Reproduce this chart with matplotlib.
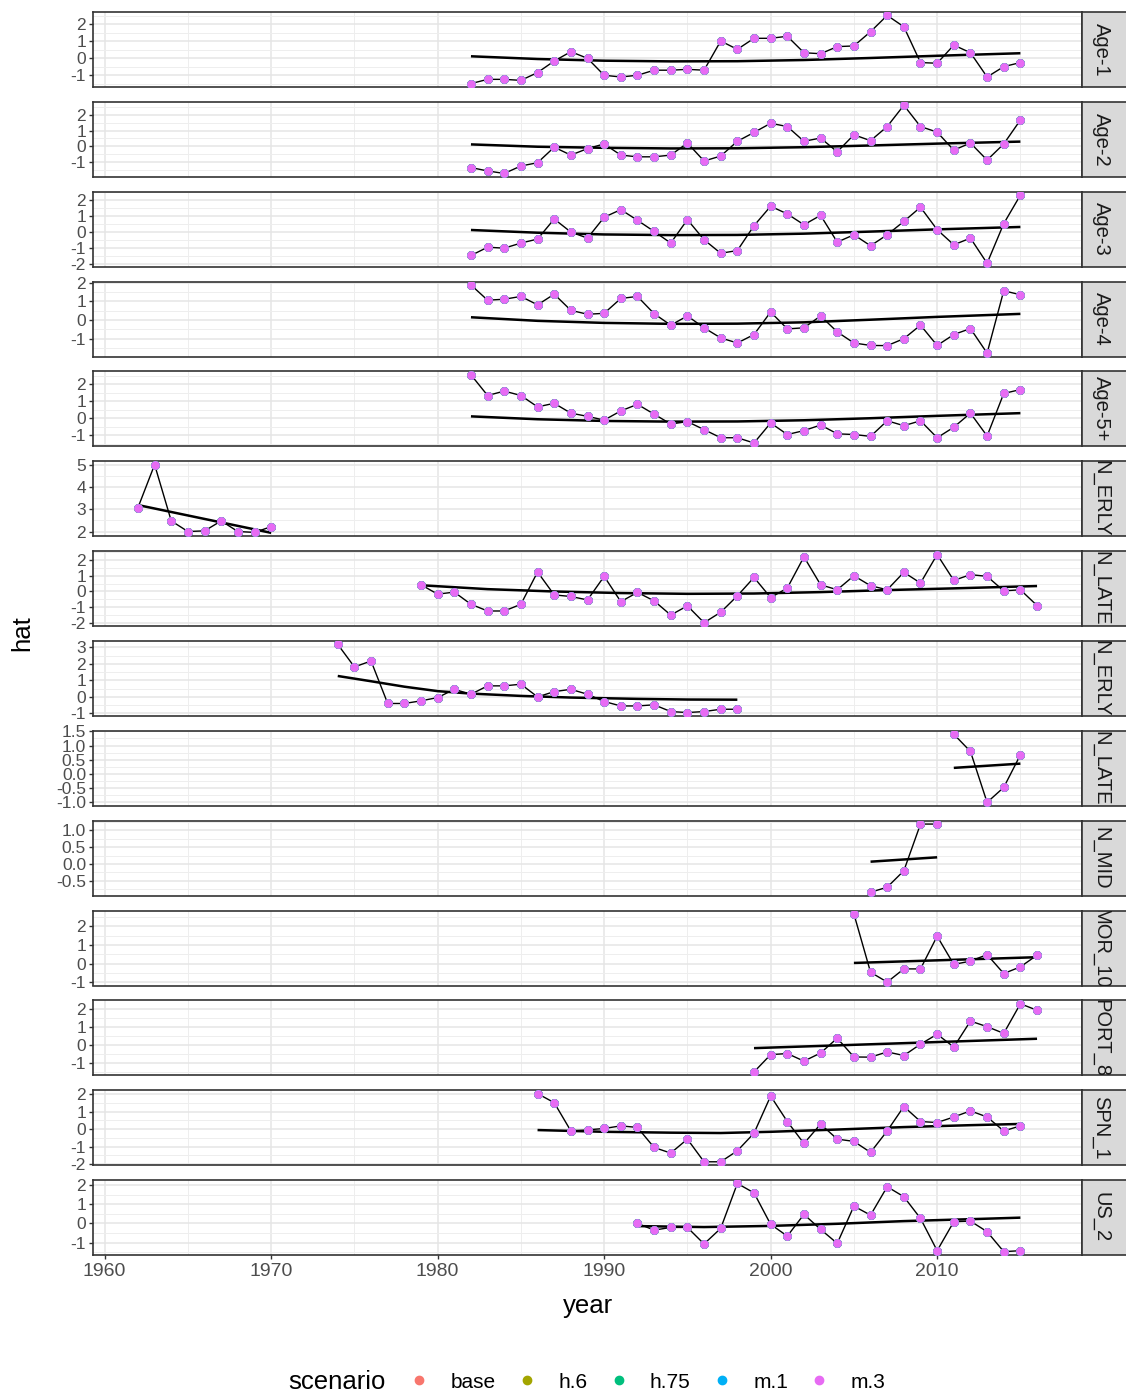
import numpy as np
import matplotlib
matplotlib.use("Agg")
import matplotlib.pyplot as plt
from matplotlib.ticker import MaxNLocator, AutoMinorLocator, MultipleLocator
from matplotlib.lines import Line2D

plt.rcParams['font.family'] = ['Liberation Sans', 'DejaVu Sans']
plt.rcParams['axes.unicode_minus'] = False

# facet labels (as far as they can be read) and first year of each series
labels = ["Age-1", "Age-2", "Age-3", "Age-4", "Age-5+", "N_ERLY", "N_LATE",
          "N_ERLY", "N_LATE", "N_MID", "MOR_10", "PORT_8", "SPN_1", "US_2"]
first_year = [1982, 1982, 1982, 1982, 1982, 1962, 1979,
              1974, 2011, 2006, 2005, 1999, 1986, 1992]

# yearly values (one per year from first_year)
age1 = [-1.49, -1.24, -1.24, -1.3, -0.84, -0.16, 0.39, 0.0, -1.0, -1.1, -1.0, -0.7,
        -0.7, -0.65, -0.7, 1.02, 0.53, 1.18, 1.18, 1.3, 0.33, 0.27, 0.69, 0.73,
        1.57, 2.53, 1.86, -0.25, -0.29, 0.78, 0.33, -1.1, -0.49, -0.25]
age2 = [-1.37, -1.59, -1.75, -1.27, -1.06, -0.06, -0.57, -0.15, 0.15, -0.57, -0.68,
        -0.68, -0.57, 0.21, -0.95, -0.63, 0.32, 0.89, 1.48, 1.27, 0.32, 0.53, -0.36,
        0.74, 0.36, 1.27, 2.64, 1.27, 0.91, -0.25, 0.21, -0.89, 0.15, 1.69]
age3 = [-1.47, -0.95, -1.01, -0.69, -0.44, 0.82, 0.0, -0.38, 0.93, 1.41, 0.74, 0.04,
        -0.69, 0.78, -0.48, -1.33, -1.16, 0.4, 1.62, 1.14, 0.46, 1.05, -0.63, -0.17,
        -0.86, -0.17, 0.67, 1.56, 0.15, -0.8, -0.38, -1.96, 0.53, 2.32]
age4 = [1.87, 1.06, 1.11, 1.26, 0.81, 1.38, 0.52, 0.31, 0.36, 1.15, 1.26, 0.34,
        -0.27, 0.22, -0.41, -0.95, -1.22, -0.77, 0.43, -0.47, -0.41, 0.22, -0.63,
        -1.22, -1.35, -1.36, -0.99, -0.27, -1.35, -0.77, -0.45, -1.76, 1.56, 1.35]
age5 = [2.57, 1.35, 1.61, 1.35, 0.68, 0.89, 0.31, 0.12, -0.1, 0.44, 0.83, 0.25,
        -0.33, -0.19, -0.66, -1.14, -1.14, -1.45, -0.27, -0.95, -0.72, -0.39, -0.91,
        -0.95, -1.06, -0.14, -0.43, -0.14, -1.14, -0.52, 0.31, -1.04, 1.47, 1.7]
n_erly_a = [3.08, 5.03, 2.48, 2.0, 2.03, 2.48, 2.0, 1.96, 2.22]
n_late_a = [0.43, -0.17, -0.04, -0.82, -1.25, -1.25, -0.82, 1.25, -0.22, -0.32, -0.54,
            0.97, -0.65, -0.06, -0.6, -1.51, -0.92, -2.0, -1.33, -0.28, 0.9, -0.39,
            0.22, 2.22, 0.43, 0.11, 1.01, 0.37, 0.11, 1.23, 0.54, 2.37, 0.71, 1.08,
            0.97, 0.04, 0.11, -0.9]
n_erly_b = [3.19, 1.82, 2.18, -0.4, -0.4, -0.24, -0.04, 0.46, 0.16, 0.67, 0.67, 0.77,
            0.0, 0.32, 0.46, 0.16, -0.28, -0.55, -0.55, -0.48, -0.89, -0.95, -0.89,
            -0.75, -0.75]
n_late_b = [1.4, 0.79, -1.01, -0.48, 0.67]
n_mid = [-0.84, -0.69, -0.2, 1.19, 1.19]
mor_10 = [2.67, -0.47, -1.0, -0.29, -0.29, 1.47, -0.05, 0.13, 0.48, -0.54, -0.18, 0.45]
port_8 = [-1.47, -0.51, -0.45, -0.87, -0.42, 0.4, -0.64, -0.65, -0.36, -0.56, 0.07,
          0.62, -0.09, 1.35, 1.04, 0.67, 2.31, 1.95]
spn_1 = [2.04, 1.52, -0.1, -0.04, 0.04, 0.19, 0.1, -1.05, -1.37, -0.57, -1.87, -1.87,
         -1.24, -0.23, 1.9, 0.44, -0.82, 0.29, -0.57, -0.7, -1.33, -0.1, 1.3, 0.44,
         0.38, 0.7, 1.05, 0.7, -0.1, 0.19]
us_2 = [0.0, -0.35, -0.21, -0.21, -1.07, -0.26, 2.08, 1.59, -0.05, -0.66, 0.47, -0.31,
        -1.04, 0.9, 0.43, 1.91, 1.39, 0.26, -1.42, 0.09, 0.12, -0.43, -1.47, -1.42]

# fitted trend lines read at a few years
age_fit_years = [1982, 1986, 1990, 1994, 1998, 2002, 2006, 2010, 2015]
age1_fit = [0.12, -0.04, -0.14, -0.18, -0.17, -0.1, 0.02, 0.15, 0.3]
age2_fit = [0.12, -0.03, -0.1, -0.14, -0.13, -0.06, 0.05, 0.17, 0.3]
age3_fit = [0.13, -0.04, -0.15, -0.19, -0.18, -0.1, 0.03, 0.17, 0.32]
age4_fit = [0.15, -0.04, -0.15, -0.2, -0.19, -0.12, 0.02, 0.17, 0.33]
age5_fit = [0.12, -0.05, -0.15, -0.19, -0.18, -0.11, 0.01, 0.15, 0.31]
n_erly_a_fit_years = [1962, 1970]
n_erly_a_fit = [3.2, 1.94]
n_late_a_fit_years = [1979, 1983, 1987, 1991, 1995, 1999, 2003, 2007, 2011, 2016]
n_late_a_fit = [0.4, 0.15, 0.0, -0.1, -0.15, -0.13, -0.04, 0.09, 0.2, 0.35]
n_erly_b_fit_years = [1974, 1976, 1978, 1980, 1982, 1985, 1988, 1992, 1995, 1998]
n_erly_b_fit = [1.27, 0.95, 0.62, 0.35, 0.2, 0.06, -0.04, -0.12, -0.16, -0.17]
n_late_b_fit_years = [2011, 2015]
n_late_b_fit = [0.21, 0.36]
n_mid_fit_years = [2006, 2010]
n_mid_fit = [0.07, 0.2]
mor_10_fit_years = [2005, 2016]
mor_10_fit = [0.03, 0.34]
port_8_fit_years = [1999, 2016]
port_8_fit = [-0.15, 0.37]
spn_1_fit_years = [1986, 1990, 1994, 1997, 2000, 2004, 2008, 2012, 2015]
spn_1_fit = [-0.05, -0.15, -0.2, -0.22, -0.15, -0.02, 0.12, 0.23, 0.3]
us_2_fit_years = [1992, 1996, 2000, 2004, 2008, 2012, 2015]
us_2_fit = [-0.14, -0.19, -0.13, -0.02, 0.12, 0.22, 0.3]

scenarios = ["base", "h.6", "h.75", "m.1", "m.3"]
colors = ["#F8766D", "#A3A500", "#00BF7D", "#00B0F6", "#E76BF3"]

series = [age1, age2, age3, age4, age5, n_erly_a, n_late_a, n_erly_b, n_late_b,
          n_mid, mor_10, port_8, spn_1, us_2]
fits = [(age_fit_years, age1_fit), (age_fit_years, age2_fit), (age_fit_years, age3_fit),
        (age_fit_years, age4_fit), (age_fit_years, age5_fit),
        (n_erly_a_fit_years, n_erly_a_fit), (n_late_a_fit_years, n_late_a_fit),
        (n_erly_b_fit_years, n_erly_b_fit), (n_late_b_fit_years, n_late_b_fit),
        (n_mid_fit_years, n_mid_fit), (mor_10_fit_years, mor_10_fit),
        (port_8_fit_years, port_8_fit), (spn_1_fit_years, spn_1_fit),
        (us_2_fit_years, us_2_fit)]

W, H = 1126, 1398
fig = plt.figure(figsize=(W / 100, H / 100), dpi=100)

left, right, strip_r = 93, 1082, 1132
top0, step, ph = 12, 89.85, 75

all_years = [y for y0, v in zip(first_year, series) for y in range(y0, y0 + len(v))]
xlo, xhi = min(all_years), max(all_years)
xpad = 0.05 * (xhi - xlo)

for i, (lab, y0, vals, (fy, fv)) in enumerate(zip(labels, first_year, series, fits)):
    top = top0 + i * step
    ax = fig.add_axes([left / W, 1 - (top + ph) / H, (right - left) / W, ph / H])
    years = np.arange(y0, y0 + len(vals))
    ax.plot(fy, fv, color='black', lw=1.8, zorder=3, solid_capstyle='butt')
    ax.plot(years, vals, color='black', lw=1.0, zorder=3)
    for c in colors:
        ax.scatter(years, vals, s=40, color=c, linewidths=0, zorder=4)
    ax.set_xlim(xlo - xpad, xhi + xpad)
    ax.margins(y=0.05)
    ax.yaxis.set_major_locator(MaxNLocator(nbins=6, steps=[1, 2, 5, 10]))
    ax.yaxis.set_minor_locator(AutoMinorLocator(2))
    ax.xaxis.set_major_locator(MultipleLocator(10))
    ax.xaxis.set_minor_locator(MultipleLocator(5))
    ax.grid(which='major', color='#E5E5E5', lw=1.1, zorder=0)
    ax.grid(which='minor', color='#EEEEEE', lw=0.7, zorder=0)
    ax.set_axisbelow(True)
    for s in ax.spines.values():
        s.set_color('#333333')
        s.set_linewidth(1.2)
    ax.tick_params(axis='y', which='major', length=3, width=1, color='#333333',
                   labelsize=12.5, labelcolor='#4D4D4D', pad=2)
    ax.tick_params(which='minor', length=0)
    if i < len(labels) - 1:
        ax.tick_params(axis='x', which='major', length=0, labelbottom=False)
    else:
        ax.tick_params(axis='x', which='major', length=3, width=1, color='#333333',
                       labelsize=14, labelcolor='#4D4D4D', pad=3)

    sax = fig.add_axes([right / W, 1 - (top + ph) / H, (strip_r - right) / W, ph / H])
    sax.set_facecolor('#D9D9D9')
    sax.set_xticks([])
    sax.set_yticks([])
    for s in sax.spines.values():
        s.set_color('#333333')
        s.set_linewidth(1.2)
    sax.text((1101 - right) / (strip_r - right), 0.5, lab, rotation=-90,
             ha='center', va='center', transform=sax.transAxes, fontsize=14.5,
             color='#1A1A1A', clip_on=True)

fig.text(22 / W, 1 - 633 / H, 'hat', rotation=90, fontsize=18.5, ha='center', va='center')
fig.text((left + right) / 2 / W, 1 - 1306 / H, 'year', fontsize=18.5, ha='center', va='center')

fig.text(288 / W, 1 - 1382 / H, 'scenario', fontsize=18.5, ha='left', va='center')
handles = [Line2D([], [], marker='o', ls='', color=c, markersize=6) for c in colors]
fig.legend(handles, scenarios, loc='center left', bbox_to_anchor=(409 / W, 1 - 1382 / H),
           ncol=5, frameon=False, fontsize=15, handlelength=1.0, handletextpad=1.0,
           columnspacing=1.0, borderaxespad=0, borderpad=0)

fig.savefig('out.png', dpi=100)
